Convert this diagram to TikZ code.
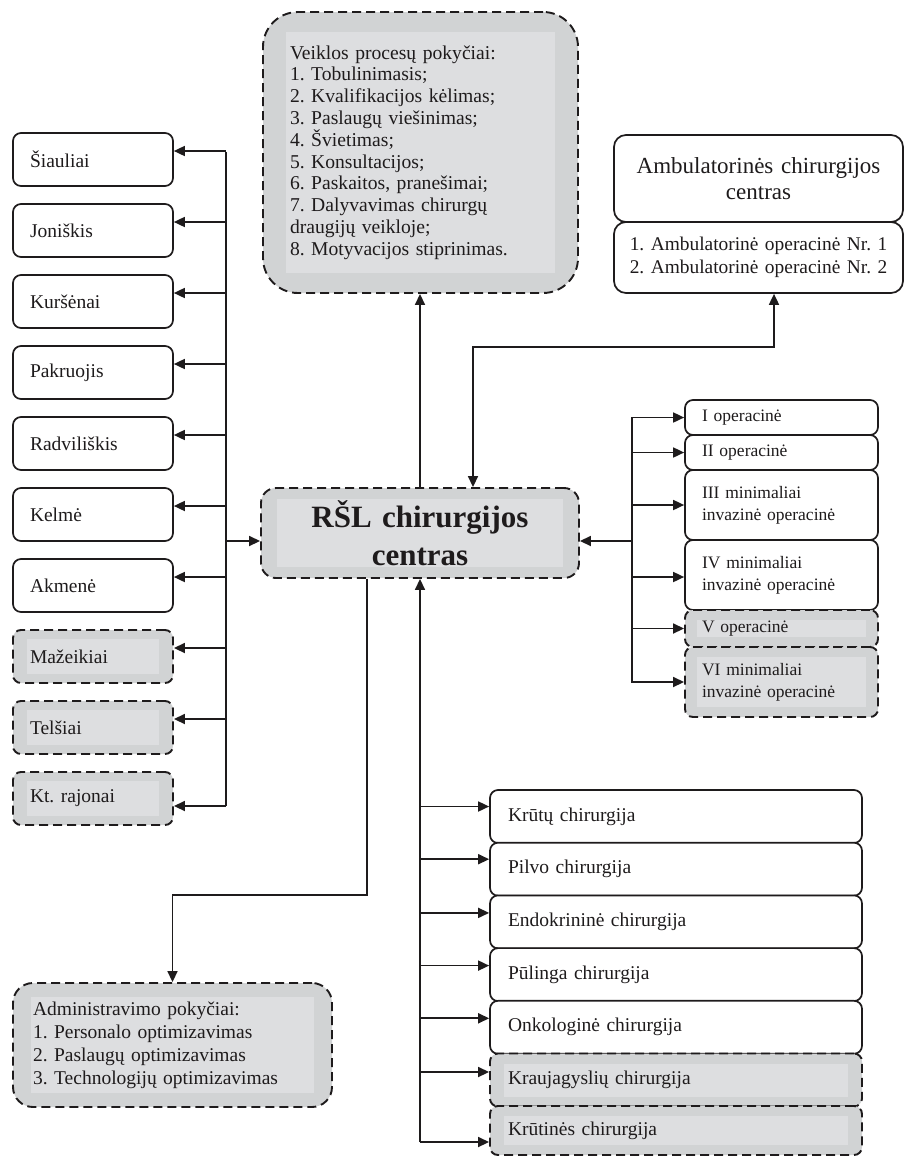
\documentclass[tikz,border=0pt]{standalone}
\usepackage{fontspec}
\setmainfont{Liberation Serif}
\usepackage{tikz}
\usetikzlibrary{arrows.meta,positioning,calc}
\definecolor{boxgray}{RGB}{209,211,212}
\definecolor{innergray}{RGB}{221,222,224}
\definecolor{ink}{RGB}{30,27,28}
\frenchspacing

\begin{document}
\begin{tikzpicture}[x=1pt, y=-1pt, >={Triangle[length=11pt,width=10pt]},
        every node/.style={text=ink},
        link/.style={line width=1.7pt, draw=ink},
        solidbox/.style={draw=ink, line width=1.7pt, fill=white, rounded corners=8pt},
        dashbox/.style 2 args={draw=ink, line width=1.9pt, dash pattern=on 9pt off 5pt, fill=boxgray, rounded corners=8pt,
            path picture={\fill[innergray, sharp corners] ([shift={(#1,-#2)}]path picture bounding box.north west) rectangle ([shift={(-#1,#2)}]path picture bounding box.south east);}},
        town/.style={align=left, text width=126pt, inner xsep=17pt, minimum height=53pt, font=\fontsize{19.5}{23}\selectfont},
        opbox/.style={align=left, text width=159pt, inner xsep=17pt, inner ysep=2pt, font=\fontsize{17.5}{22}\selectfont},
        surgbox/.style={align=left, text width=336pt, inner xsep=18pt, minimum height=53pt, font=\fontsize{19.5}{23}\selectfont}]
        \path[use as bounding box, fill=white] (0,0) rectangle (904,1157);

        % Nodes: districts
        \node[solidbox, town] (siau) at (93,159.5) {Šiauliai};
        \node[solidbox, town] (jon) at (93,230.5) {Joniškis};
        \node[solidbox, town] (kurs) at (93,301.5) {Kuršėnai};
        \node[solidbox, town] (pakr) at (93,372.5) {Pakruojis};
        \node[solidbox, town] (radv) at (93,443.5) {Radviliškis};
        \node[solidbox, town] (kelm) at (93,514.5) {Kelmė};
        \node[solidbox, town] (akm) at (93,585.5) {Akmenė};
        \node[dashbox={14pt}{9pt}, town] (maz) at (93,656.5) {Mažeikiai};
        \node[dashbox={14pt}{9pt}, town] (tels) at (93,727.5) {Telšiai};
        \node[dashbox={14pt}{9pt}, town] (ktraj) at (93,798.5) {Kt. rajonai};

        % Nodes: centre and changes
        \node[dashbox={23pt}{20pt}, rounded corners=35pt, align=left, text width=261pt, inner xsep=27pt, minimum height=281pt, font=\fontsize{19.6}{21.8}\selectfont] (veikla) at (420.5,152.5) {Veiklos procesų pokyčiai:\\1. Tobulinimasis;\\2. Kvalifikacijos kėlimas;\\3. Paslaugų viešinimas;\\4. Švietimas;\\5. Konsultacijos;\\6. Paskaitos, pranešimai;\\7. Dalyvavimas chirurgų\\draugijų veikloje;\\8. Motyvacijos stiprinimas.};
        \node[dashbox={16pt}{11pt}, rounded corners=15pt, align=center, text width=286pt, inner xsep=16pt, minimum height=90pt, font=\bfseries\fontsize{31}{38}\selectfont] (rsl) at (420,533) {RŠL chirurgijos\\centras};
        \node[dashbox={18pt}{14pt}, rounded corners=20pt, align=left, text width=279pt, inner xsep=20pt, minimum height=124pt, font=\fontsize{19.5}{23}\selectfont] (admin) at (172.5,1045) {Administravimo pokyčiai:\\1. Personalo optimizavimas\\2. Paslaugų optimizavimas\\3. Technologijų optimizavimas};

        % Nodes: ambulatory centre
        \node[solidbox, rounded corners=12pt, align=center, text width=269pt, inner xsep=10pt, minimum height=87pt, font=\fontsize{23}{25.5}\selectfont] (ambtitle) at (758.5,178.5) {Ambulatorinės chirurgijos\\centras};
        \node[solidbox, rounded corners=12pt, align=center, text width=269pt, inner xsep=10pt, minimum height=71pt, font=\fontsize{19.4}{23}\selectfont] (amblist) at (758.5,257.5) {1. Ambulatorinė operacinė Nr. 1\\2. Ambulatorinė operacinė Nr. 2};

        % Nodes: operating rooms
        \node[solidbox, opbox, minimum height=35pt] (op1) at (781.5,417.5) {I operacinė};
        \node[solidbox, opbox, minimum height=35pt] (op2) at (781.5,452.5) {II operacinė};
        \node[solidbox, opbox, minimum height=70pt] (op3) at (781.5,505) {III minimaliai\\invazinė operacinė};
        \node[solidbox, opbox, minimum height=70pt] (op4) at (781.5,575) {IV minimaliai\\invazinė operacinė};
        \node[dashbox={12pt}{10pt}, opbox, minimum height=37pt] (op5) at (781.5,628.5) {V operacinė};
        \node[dashbox={12pt}{10pt}, opbox, minimum height=70pt] (op6) at (781.5,682) {VI minimaliai\\invazinė operacinė};

        % Nodes: surgery fields
        \node[solidbox, surgbox] (krutu) at (676,816.5) {Krūtų chirurgija};
        \node[solidbox, surgbox] (pilvo) at (676,869.2) {Pilvo chirurgija};
        \node[solidbox, surgbox] (endo) at (676,921.9) {Endokrininė chirurgija};
        \node[solidbox, surgbox] (puli) at (676,974.6) {Pūlinga chirurgija};
        \node[solidbox, surgbox] (onko) at (676,1027.3) {Onkologinė chirurgija};
        \node[dashbox={14pt}{10pt}, surgbox] (krau) at (676,1080) {Kraujagyslių chirurgija};
        \node[dashbox={14pt}{10pt}, surgbox, minimum height=49pt] (krut) at (676,1130.5) {Krūtinės chirurgija};

        % Bus points
        \coordinate (lbus) at (226,152);
        \coordinate (lbusend) at (226,806);
        \coordinate (rbus) at (632,417);
        \coordinate (rbusend) at (632,683);
        \coordinate (sbus) at (420,1142);
        \coordinate (ambturn) at (473,347);
        \coordinate (admturn) at (367,895);

        % Links: districts
        \draw[link] (lbus) -- (lbusend);
        \draw[link, ->] ([yshift=8.5pt]siau.east -| lbus) -- ([yshift=8.5pt]siau.east);
        \draw[link, ->] ([yshift=8.5pt]jon.east -| lbus) -- ([yshift=8.5pt]jon.east);
        \draw[link, ->] ([yshift=8.5pt]kurs.east -| lbus) -- ([yshift=8.5pt]kurs.east);
        \draw[link, ->] ([yshift=8.5pt]pakr.east -| lbus) -- ([yshift=8.5pt]pakr.east);
        \draw[link, ->] ([yshift=8.5pt]radv.east -| lbus) -- ([yshift=8.5pt]radv.east);
        \draw[link, ->] ([yshift=8.5pt]kelm.east -| lbus) -- ([yshift=8.5pt]kelm.east);
        \draw[link, ->] ([yshift=8.5pt]akm.east -| lbus) -- ([yshift=8.5pt]akm.east);
        \draw[link, ->] ([yshift=8.5pt]maz.east -| lbus) -- ([yshift=8.5pt]maz.east);
        \draw[link, ->] ([yshift=8.5pt]tels.east -| lbus) -- ([yshift=8.5pt]tels.east);
        \draw[link, ->] ([yshift=-7.5pt]ktraj.east -| lbus) -- ([yshift=-7.5pt]ktraj.east);
        \draw[link, ->] ([yshift=-8pt]rsl.west -| lbus) -- ([yshift=-8pt]rsl.west);

        % Links: changes and ambulatory centre
        \draw[link, ->] (rsl.north) -- (rsl.north |- veikla.south);
        \draw[link, <->] ([xshift=15.5pt]amblist.south) |- (ambturn) -- (rsl.north -| ambturn);
        \draw[link, ->] (rsl.south -| admturn) -- (admturn) -| (admin.north);

        % Links: operating rooms
        \draw[link] (rbus) -- (rbusend);
        \draw[link, ->] ([yshift=-8pt]rsl.east -| rbus) -- ([yshift=-8pt]rsl.east);
        \draw[link, ->] (op1.west -| rbus) -- (op1.west);
        \draw[link, ->] (op2.west -| rbus) -- (op2.west);
        \draw[link, ->] (op3.west -| rbus) -- (op3.west);
        \draw[link, ->] ([yshift=-2pt]op4.west -| rbus) -- ([yshift=-2pt]op4.west);
        \draw[link, ->] (op5.west -| rbus) -- (op5.west);
        \draw[link, ->] (op6.west -| rbus) -- (op6.west);

        % Links: surgery fields
        \draw[link, ->] (sbus) -- (rsl.south);
        \draw[link, ->] ([yshift=10pt]krutu.west -| sbus) -- ([yshift=10pt]krutu.west);
        \draw[link, ->] ([yshift=10pt]pilvo.west -| sbus) -- ([yshift=10pt]pilvo.west);
        \draw[link, ->] ([yshift=9pt]endo.west -| sbus) -- ([yshift=9pt]endo.west);
        \draw[link, ->] ([yshift=9pt]puli.west -| sbus) -- ([yshift=9pt]puli.west);
        \draw[link, ->] ([yshift=9pt]onko.west -| sbus) -- ([yshift=9pt]onko.west);
        \draw[link, ->] ([yshift=8pt]krau.west -| sbus) -- ([yshift=8pt]krau.west);
        \draw[link, ->] ([yshift=-11.5pt]krut.west -| sbus) -- ([yshift=-11.5pt]krut.west);
    \end{tikzpicture}
\end{document}
